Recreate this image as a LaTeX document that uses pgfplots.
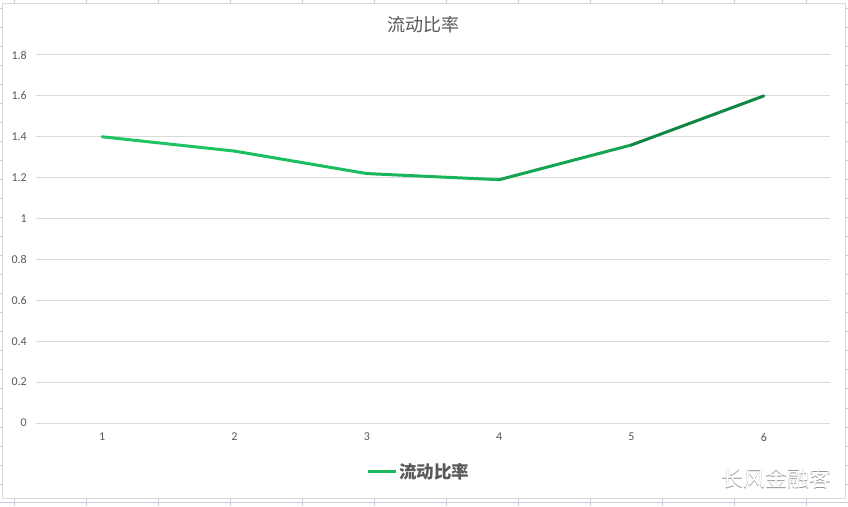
\documentclass[border=0pt]{standalone}
\usepackage{fontspec}
\setmainfont{Carlito}
\newfontfamily\cjk{Noto Sans CJK SC}
\usepackage{pgfplots}
\pgfplotsset{compat=1.18}
\definecolor{gridc}{HTML}{D9D9D9}
\definecolor{labc}{HTML}{595959}
\definecolor{cellc}{HTML}{C9CCDB}
\definecolor{linec}{HTML}{1ABA5C}
\begin{document}
\begin{tikzpicture}[x=1pt,y=1pt]
\useasboundingbox (0,0) rectangle (848,506);
% spreadsheet cells around the chart
\foreach \x in {14,86,...,806} {
  \draw[cellc, line width=1pt] (\x,502) -- (\x,506);
  \draw[cellc, line width=1pt] (\x,0) -- (\x,8);
}
\foreach \y in {497,478,...,10} {
  \draw[cellc, line width=1pt] (0,\y) -- (2.5,\y);
  \draw[cellc, line width=1pt] (845,\y) -- (848,\y);
}
\draw[cellc, line width=1pt] (0,3.5) -- (848,3.5);
\draw[gridc, line width=1pt, fill=white] (2.5,8) rectangle (845,502);

\begin{axis}[
    at={(36pt,83pt)}, anchor=south west,
    scale only axis,
    width=794pt, height=368pt,
    xmin=0.5, xmax=6.5,
    ymin=0, ymax=1.8,
    xtick={1,2,3,4,5,6},
    ytick={0,0.2,0.4,0.6,0.8,1,1.2,1.4,1.6,1.8},
    yticklabels={0,0.2,0.4,0.6,0.8,1,1.2,1.4,1.6,1.8},
    ymajorgrids=true,
    grid style={gridc, line width=1pt},
    axis line style={draw=none},
    major tick length=0pt,
    /pgf/number format/assume math mode=true,
    tick label style={font=\fontsize{12}{12}\selectfont, color=labc},
    yticklabel style={anchor=east, inner sep=0pt, xshift=-9pt},
    xticklabel style={anchor=north, inner sep=0pt, yshift=-10pt},
    colormap={gr}{rgb255=(32,198,100) rgb255=(28,188,94) rgb255=(22,170,84) rgb255=(14,120,58)},
    point meta min=1, point meta max=6,
    legend style={at={(0.482,-0.133)}, anchor=center, draw=none, fill=none,
        font=\cjk\bfseries\fontsize{17.5}{17.5}\selectfont, text=labc},
    legend image code/.code={\draw[line width=3pt, color=linec] (0pt,0pt) -- (28pt,0pt);},
]
\addplot[mesh, forget plot, point meta=x, line width=3pt, line cap=round, line join=round] coordinates {
    (1,1.40) (2,1.33) (3,1.22) (4,1.19) (5,1.36) (6,1.60)
};
\addlegendimage{linec}
\addlegendentry{流动比率}
\end{axis}

\node[text=labc, font=\cjk\fontsize{18}{18}\selectfont] at (423,481) {流动比率};
\node[text=gray!85, font=\cjk\fontsize{22}{22}\selectfont] at (776.8,27.2) {长风金融客};
\node[text=white, font=\cjk\fontsize{22}{22}\selectfont] at (776,28) {长风金融客};
\end{tikzpicture}
\end{document}
